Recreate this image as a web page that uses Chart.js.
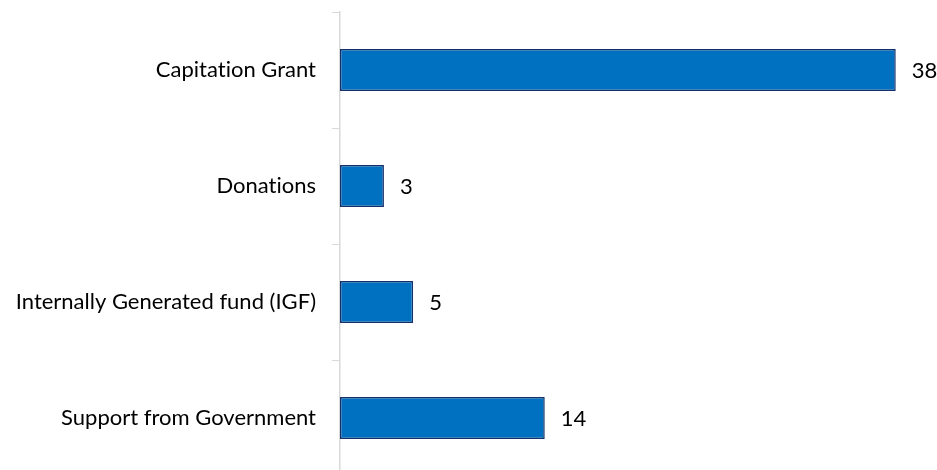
<!DOCTYPE html>
<html lang="en">
<head>
    <meta charset="UTF-8">
    <title>Sources of School Funding</title>
    <script src="https://cdn.jsdelivr.net/npm/chart.js"></script>
    <style>
        html, body { margin: 0; padding: 0; background: #fff; overflow: hidden; }
        #wrap { width: 937px; height: 480px; }
    </style>
</head>
<body>
    <div id="wrap"><canvas id="fundChart" width="937" height="480"></canvas></div>
    <script>
        // funding sources and counts
        const sources = ['Capitation Grant', 'Donations', 'Internally Generated fund (IGF)', 'Support from Government'];
        const counts = [38, 3, 5, 14];
        const axisMax = 40;

        const labelFont = { family: 'Lato', size: 22 };

        // plain glyphs, no "ti" ligature from Lato
        const plainText = {
            id: 'plainText',
            beforeDraw(chart) {
                chart.ctx.textRendering = 'optimizeSpeed';
            }
        };

        // writes the count just past the end of each bar
        const valueLabels = {
            id: 'valueLabels',
            afterDatasetsDraw(chart) {
                const ctx = chart.ctx;
                const meta = chart.getDatasetMeta(0);
                ctx.save();
                ctx.font = labelFont.size + 'px ' + labelFont.family;
                ctx.fillStyle = '#000';
                ctx.textAlign = 'left';
                ctx.textBaseline = 'middle';
                meta.data.forEach((bar, i) => {
                    ctx.fillText(counts[i], bar.x + 16, bar.y + 1);
                });
                ctx.restore();
            }
        };

        const ctx = document.getElementById('fundChart').getContext('2d');
        new Chart(ctx, {
            type: 'bar',
            data: {
                labels: sources,
                datasets: [{
                    data: counts,
                    backgroundColor: '#0070C0',
                    borderColor: '#13306A',
                    borderWidth: 1.5,
                    borderSkipped: false,
                    categoryPercentage: 1,
                    barPercentage: 0.36
                }]
            },
            options: {
                indexAxis: 'y',
                responsive: false,
                animation: false,
                layout: { padding: { left: 0, right: 12, top: 12, bottom: 4 } },
                plugins: { legend: { display: false }, tooltip: { enabled: false } },
                scales: {
                    x: { display: false, min: 0, max: axisMax },
                    y: {
                        offset: true,
                        afterFit: s => {
                            // fixed axis position, and no extra room for half-labels at the ends
                            s.width = 340;
                            s.paddingTop = 0;
                            s.paddingBottom = 0;
                        },
                        grid: { offset: true, drawOnChartArea: false, tickLength: 8, color: '#d9d9d9' },
                        border: { color: '#d9d9d9', width: 1.5 },
                        ticks: { color: '#000', font: labelFont, padding: 16 }
                    }
                }
            },
            plugins: [plainText, valueLabels]
        });
    </script>
</body>
</html>
